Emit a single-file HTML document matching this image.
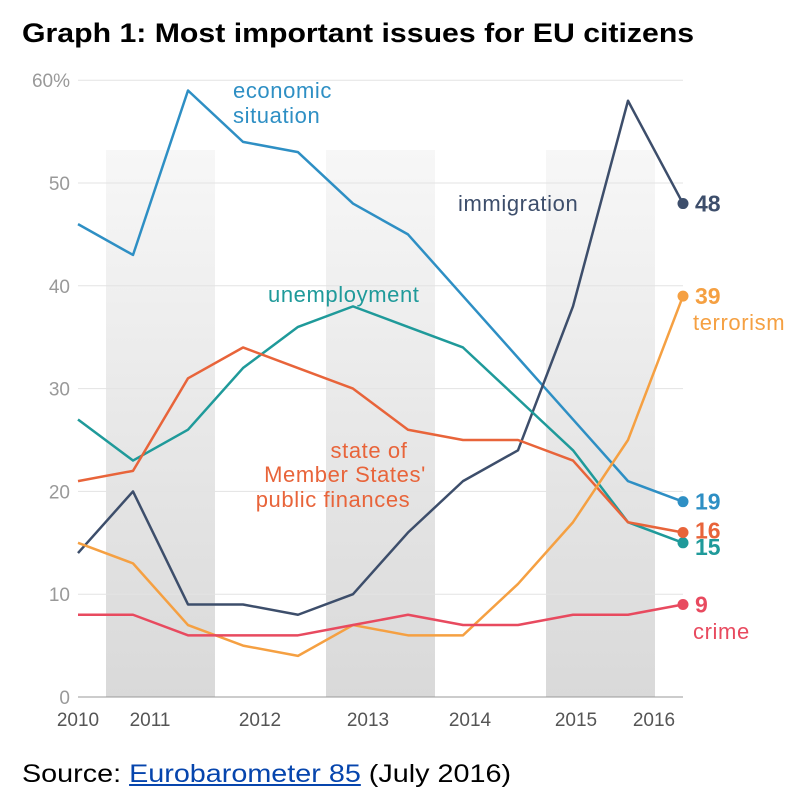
<!DOCTYPE html>
<html><head><meta charset="utf-8"><style>
body{margin:0;background:#fff;width:810px;height:807px;overflow:hidden;font-family:"Liberation Sans",sans-serif}
#title{position:absolute;left:22px;top:18px;font-size:27px;font-weight:bold;color:#000;transform:scaleX(1.12);transform-origin:0 0;white-space:nowrap}
#src{position:absolute;left:22px;top:760px;font-size:25px;color:#000;transform:scaleX(1.15);transform-origin:0 0;white-space:nowrap}
#src a{color:#0645ad;text-decoration:underline}
svg{position:absolute;left:0;top:0}
</style></head><body>
<div id="title">Graph 1: Most important issues for EU citizens</div>
<div id="src">Source: <a>Eurobarometer 85</a> (July 2016)</div>
<svg id="chart" width="810" height="807">
<defs><linearGradient id="band" x1="0" y1="0" x2="0" y2="1"><stop offset="0" stop-color="#f7f7f7"/><stop offset="1" stop-color="#d9d9d9"/></linearGradient></defs>
</svg>
<script>
const yTicks=[0,10,20,30,40,50,60];
const yearLabels=["2010","2011","2012","2013","2014","2015","2016"];
const yearPos=[78,150,260,368,470,576,654];
const economic=[46,43,59,54,53,48,45,39,33,27,21,19];
const immigration=[14,20,9,9,8,10,16,21,24,38,58,48];
const unemployment=[27,23,26,32,36,38,36,34,29,24,17,15];
const finances=[21,22,31,34,32,30,26,25,25,23,17,16];
const terrorism=[15,13,7,5,4,7,6,6,11,17,25,39];
const crime=[8,8,6,6,6,7,8,7,7,8,8,9];
const svg=document.getElementById('chart');
const NS='http://www.w3.org/2000/svg';
const x=i=>78+i*55;
const y=v=>697-v*10.28;
function mk(t,a){const e=document.createElementNS(NS,t);for(const k in a)e.setAttribute(k,a[k]);svg.appendChild(e);return e;}
[[106,215],[326,435],[546,655]].forEach(b=>{
 const r=mk('rect',{x:b[0],y:150,width:b[1]-b[0],height:547,fill:'url(#band)'});
 
 
});
yTicks.forEach(t=>{
 const l=mk('line',{x1:78,x2:683,y1:y(t),y2:y(t),stroke:t===0?'#999':'#e3e3e3','stroke-width':1});
 
 
 const tx=mk('text',{x:70,y:y(t)+7,'text-anchor':'end','font-size':19,fill:'#999'});
 tx.textContent=t===60?'60%':t;
 
 
});
yearLabels.forEach((s,i)=>{
 const tx=mk('text',{x:yearPos[i],y:726,'text-anchor':'middle','font-size':19,fill:'#555'});
 tx.textContent=s;
 
 
});
function series(d,c,name,lab,lx){
 const p=mk('polyline',{points:d.map((v,i)=>x(i)+','+y(v)).join(' '),fill:'none',stroke:c,'stroke-width':2.5,'stroke-linejoin':'round'});
 
 
 const n=d.length-1;
 const dot=mk('circle',{cx:x(n),cy:y(d[n]),r:5.5,fill:c});
 
 
 const v=mk('text',{x:x(n)+12,y:y(d[n])+lx,'font-size':23,'font-weight':'bold',fill:c});
 v.textContent=d[n];
 
 
 lab.forEach(s=>{
  const t=mk('text',{x:s[1],y:s[2],'font-size':22,'letter-spacing':'0.6','fill':c,'text-anchor':s[3]||'start'});
  t.textContent=s[0];
  
  
 });
}
series(economic,'#2e8fc4','economic-situation',[['economic',233,98],['situation',233,123]],8);
series(immigration,'#3d4e6b','immigration',[['immigration',458,211]],8);
series(unemployment,'#1f9a9a','unemployment',[['unemployment',268,302]],12);
series(finances,'#e8643a','public-finances',[['state of',369,458,'middle'],["Member States'",345,482,'middle'],['public finances',333,507,'middle']],6);
series(terrorism,'#f5a042','terrorism',[['terrorism',693,330]],8);
series(crime,'#e84a5f','crime',[['crime',693,639]],8);
</script>
</body></html>
